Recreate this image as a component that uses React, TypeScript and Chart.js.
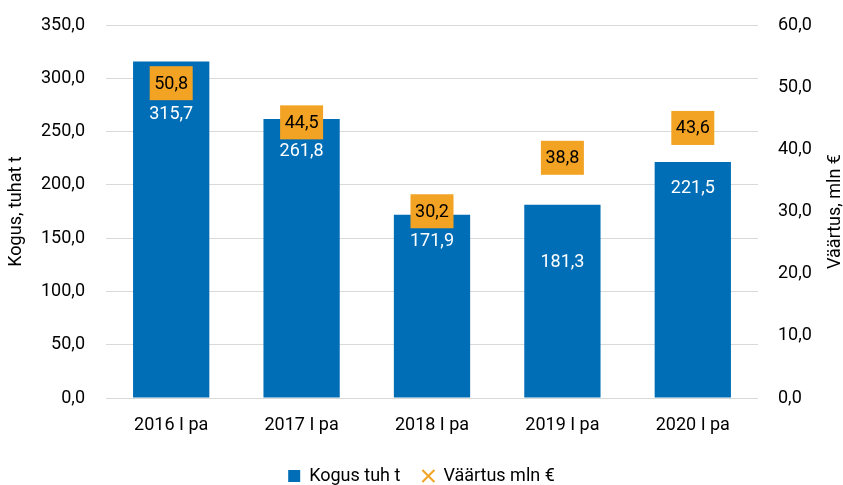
import React, { useEffect, useRef } from 'react';
import { Chart, registerables } from 'chart.js';

Chart.register(...registerables);

const categories = ['2016 I pa', '2017 I pa', '2018 I pa', '2019 I pa', '2020 I pa'];
const kogus = [315.7, 261.8, 171.9, 181.3, 221.5];
const vaartus = [50.8, 44.5, 30.2, 38.8, 43.6];
const leftAxis = { min: 0, max: 350, step: 50 };
const rightAxis = { min: 0, max: 60, step: 10 };

const BLUE = '#006EB6';
const ORANGE = '#F2A324';
const FONT = 'Roboto';
// vertical nudges (px) of the white bar labels below each bar top
const barLabelNudge = [53, 33, 27, 58, 27];

const fmt = (v: number) => v.toFixed(1).replace('.', ',');

const labelsPlugin = {
  id: 'valueLabels',
  afterDatasetsDraw(chart: any) {
    const ctx = chart.ctx;
    ctx.save();
    ctx.font = `18px ${FONT}`;
    ctx.textAlign = 'center';
    ctx.textBaseline = 'middle';
    const barMeta = chart.getDatasetMeta(0);
    barMeta.data.forEach((el: any, i: number) => {
      ctx.fillStyle = '#ffffff';
      ctx.fillText(fmt(kogus[i]), el.x, el.y + barLabelNudge[i]);
    });
    const lineMeta = chart.getDatasetMeta(1);
    lineMeta.data.forEach((el: any, i: number) => {
      const cy = el.y + 1;
      ctx.fillStyle = ORANGE;
      ctx.fillRect(el.x - 21.5, cy - 17, 43, 34);
      ctx.fillStyle = '#000000';
      ctx.fillText(fmt(vaartus[i]), el.x, cy + 1);
    });
    ctx.restore();
  },
  afterDraw(chart: any) {
    const ctx = chart.ctx;
    const { top, bottom } = chart.chartArea;
    const cy = (top + bottom) / 2;
    ctx.save();
    ctx.font = `18px ${FONT}`;
    ctx.fillStyle = '#000000';
    ctx.textAlign = 'center';
    ctx.textBaseline = 'middle';
    ctx.translate(16, cy);
    ctx.rotate(-Math.PI / 2);
    ctx.fillText('Kogus, tuhat t', 0, 0);
    ctx.restore();
    ctx.save();
    ctx.font = `18px ${FONT}`;
    ctx.fillStyle = '#000000';
    ctx.textAlign = 'center';
    ctx.textBaseline = 'middle';
    ctx.translate(835, cy);
    ctx.rotate(-Math.PI / 2);
    ctx.fillText('Väärtus, mln €', 0, 0);
    ctx.restore();
  },
};

export default function App() {
  const ref = useRef<HTMLCanvasElement>(null);
  useEffect(() => {
    if (!ref.current) return;
    Chart.defaults.font.family = FONT;
    Chart.defaults.font.size = 18;
    Chart.defaults.color = '#000000';
    const chart = new Chart(ref.current, {
      type: 'bar',
      data: {
        labels: categories,
        datasets: [
          {
            type: 'bar',
            label: 'Kogus tuh t',
            data: kogus,
            backgroundColor: BLUE,
            borderWidth: 0,
            yAxisID: 'y',
            categoryPercentage: 1,
            barPercentage: 0.585,
            pointStyle: 'rect',
          } as any,
          {
            type: 'line',
            label: 'Väärtus mln €',
            data: vaartus,
            showLine: false,
            yAxisID: 'y1',
            pointStyle: 'crossRot',
            pointRadius: 5,
            pointBorderColor: ORANGE,
            pointBackgroundColor: ORANGE,
            pointBorderWidth: 2,
            borderColor: ORANGE,
            backgroundColor: ORANGE,
          } as any,
        ],
      },
      options: {
        animation: false,
        responsive: false,
        maintainAspectRatio: false,
        layout: { padding: { top: 25, left: 0, right: 0, bottom: -10 } },
        plugins: {
          legend: {
            position: 'bottom',
            labels: {
              usePointStyle: true,
              boxWidth: 12,
              boxHeight: 12,
              padding: 22,
              font: { size: 18, family: FONT },
              color: '#000000',
            },
          },
          tooltip: { enabled: false },
        },
        scales: {
          x: {
            grid: { display: false },
            border: { display: false },
            ticks: { padding: 9, font: { size: 18 } },
            afterFit: (s: any) => { s.height = 47; },
          },
          y: {
            position: 'left',
            min: leftAxis.min,
            max: leftAxis.max,
            ticks: { stepSize: leftAxis.step, padding: 0, callback: (v: any) => fmt(Number(v)) },
            grid: { color: '#D9D9D9', lineWidth: 1, drawTicks: true, tickLength: 21, tickColor: 'rgba(0,0,0,0)' },
            border: { display: false },
            afterFit: (s: any) => { s.width = 106; },
          },
          y1: {
            position: 'right',
            min: rightAxis.min,
            max: rightAxis.max,
            ticks: { stepSize: rightAxis.step, padding: 0, callback: (v: any) => fmt(Number(v)) },
            grid: { display: true, drawOnChartArea: false, drawTicks: true, tickLength: 20, tickColor: 'rgba(0,0,0,0)', color: 'rgba(0,0,0,0)' },
            border: { display: false },
            afterFit: (s: any) => { s.width = 85; },
          },
        },
      },
      plugins: [labelsPlugin],
    });
    return () => chart.destroy();
  }, []);
  return (
    <div style={{ position: 'absolute', left: 0, top: 0, width: 843, height: 485 }}>
      <canvas ref={ref} width={843} height={485} style={{ width: 843, height: 485 }} />
    </div>
  );
}
